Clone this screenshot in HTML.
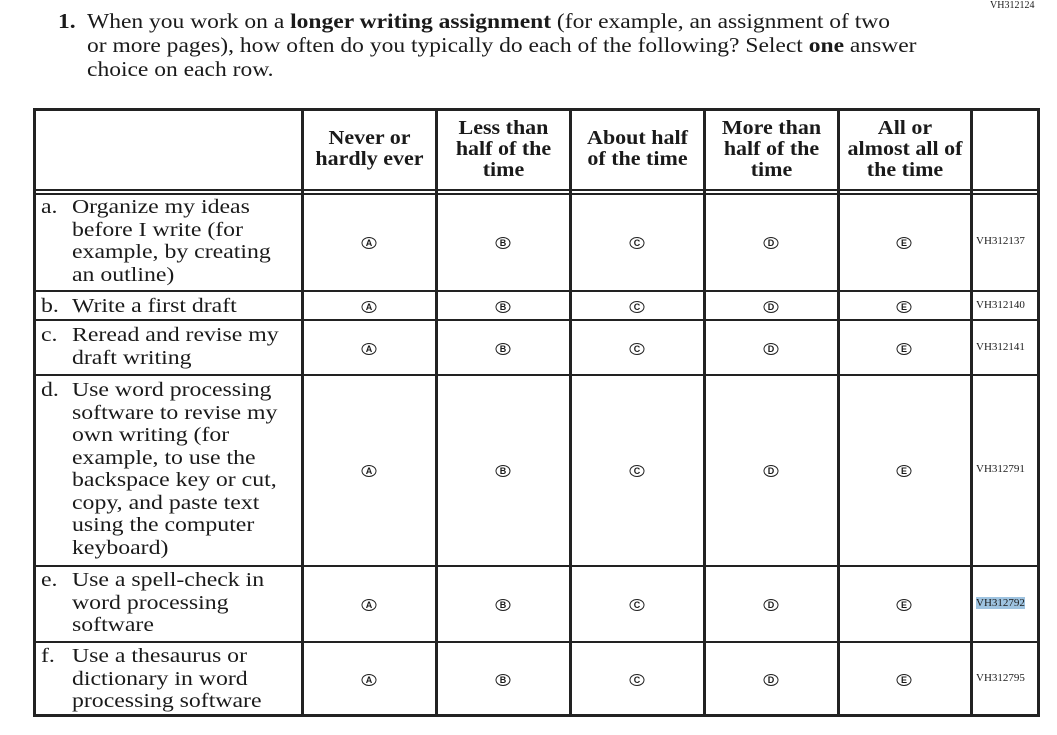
<!DOCTYPE html>
<html><head><meta charset="utf-8"><style>
body{margin:0;width:1057px;height:735px;background:#fff;position:relative;overflow:hidden;font-family:"Liberation Serif",serif;color:#1a1a1a}
.a{position:absolute;white-space:nowrap}
.h{position:absolute;background:#222}
.t{font-size:21px;line-height:24px;transform:scaleX(1.12);transform-origin:0 0}
.r{font-size:20.5px;line-height:22.5px;transform:scaleX(1.16);transform-origin:0 0}
.hd{font-size:20px;line-height:21px;font-weight:bold;text-align:center;transform:scaleX(1.1)}
.c{position:absolute;width:13px;height:10px;border:1.8px solid #222;border-radius:50%;font-family:"Liberation Sans",sans-serif;font-size:9px;font-weight:bold;line-height:10px;text-align:center;transform:translate(-50%,-50%)}
.code{position:absolute;font-size:11px;left:976px}
</style></head><body>
<div class="a" style="left:990px;top:0;font-size:10px">VH312124</div>
<div class="a t" style="left:58px;top:9px;font-weight:bold">1.</div>
<div class="a t" style="left:87px;top:9px">When you work on a <b>longer writing assignment</b> (for example, an assignment of two<br>or more pages), how often do you typically do each of the following? Select <b>one</b> answer<br>choice on each row.</div>

<div class="h" style="left:33px;top:108px;width:1007px;height:3px"></div>
<div class="h" style="left:33px;top:714px;width:1007px;height:3px"></div>
<div class="h" style="left:33px;top:108px;width:3px;height:609px"></div>
<div class="h" style="left:1037px;top:108px;width:3px;height:609px"></div>
<div class="h" style="left:301px;top:108px;width:3px;height:609px"></div>
<div class="h" style="left:435px;top:108px;width:3px;height:609px"></div>
<div class="h" style="left:569px;top:108px;width:3px;height:609px"></div>
<div class="h" style="left:703px;top:108px;width:3px;height:609px"></div>
<div class="h" style="left:837px;top:108px;width:3px;height:609px"></div>
<div class="h" style="left:970px;top:108px;width:3px;height:609px"></div>
<div class="h" style="left:33px;top:189px;width:1007px;height:2px"></div>
<div class="h" style="left:33px;top:193px;width:1007px;height:2px"></div>
<div class="h" style="left:33px;top:290px;width:1007px;height:2px"></div>
<div class="h" style="left:33px;top:319px;width:1007px;height:2px"></div>
<div class="h" style="left:33px;top:374px;width:1007px;height:2px"></div>
<div class="h" style="left:33px;top:565px;width:1007px;height:2px"></div>
<div class="h" style="left:33px;top:641px;width:1007px;height:2px"></div>

<div class="a hd" style="left:304px;width:131px;top:128px">Never or<br>hardly ever</div>
<div class="a hd" style="left:438px;width:131px;top:118px">Less than<br>half of the<br>time</div>
<div class="a hd" style="left:572px;width:131px;top:128px">About half<br>of the time</div>
<div class="a hd" style="left:706px;width:131px;top:118px">More than<br>half of the<br>time</div>
<div class="a hd" style="left:840px;width:130px;top:118px">All or<br>almost all of<br>the time</div>

<div class="a r" style="left:41px;top:196px">a.</div><div class="a r" style="left:72px;top:196px">Organize my ideas<br>before I write (for<br>example, by creating<br>an outline)</div>
<div class="a r" style="left:41px;top:295px">b.</div><div class="a r" style="left:72px;top:295px">Write a first draft</div>
<div class="a r" style="left:41px;top:324px">c.</div><div class="a r" style="left:72px;top:324px">Reread and revise my<br>draft writing</div>
<div class="a r" style="left:41px;top:379px">d.</div><div class="a r" style="left:72px;top:379px">Use word processing<br>software to revise my<br>own writing (for<br>example, to use the<br>backspace key or cut,<br>copy, and paste text<br>using the computer<br>keyboard)</div>
<div class="a r" style="left:41px;top:569px">e.</div><div class="a r" style="left:72px;top:569px">Use a spell-check in<br>word processing<br>software</div>
<div class="a r" style="left:41px;top:645px">f.</div><div class="a r" style="left:72px;top:645px">Use a thesaurus or<br>dictionary in word<br>processing software</div>

<div id="circles"></div>
<script>
var ys=[243,307,349,471,605,680],xs=[369,503,637,771,904],L="ABCDE",h="";
ys.forEach(function(y){xs.forEach(function(x,i){h+='<div class="c" style="left:'+x+'px;top:'+y+'px">'+L[i]+'</div>';});});
document.getElementById("circles").innerHTML=h;
</script>
<div class="code" style="top:235px">VH312137</div>
<div class="code" style="top:299px">VH312140</div>
<div class="code" style="top:341px">VH312141</div>
<div class="code" style="top:463px">VH312791</div>
<div class="code" style="top:597px;background:#9ec3e0">VH312792</div>
<div class="code" style="top:672px">VH312795</div>
</body></html>
